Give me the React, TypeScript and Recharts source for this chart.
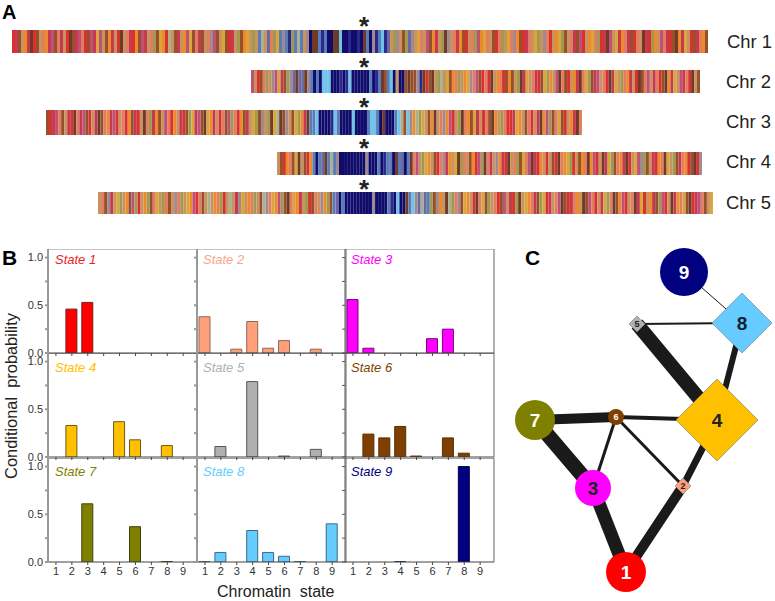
import React from 'react';
import { BarChart, Bar, Cell, XAxis, YAxis, ReferenceLine, ScatterChart, Scatter } from 'recharts';

// Panel A: one letter per stripe, left to right
const chr1Left = 'rcbtocdrbt socpbsctrd bcpsrbpcyp tboctrdtsc robpctsgby orhtbctopy bscbtsepbt ybrctgboyt gtahtvsgya eamgah';
const chr1Mid = 'atendd amanndd lnnmnnmn dan emal mvtg';
const chr1Right = 'etbgvetyst pboctgdets cobrtsgpoy stbrsgtyse obrcstygte srtoygbtsc bprtoysgrc dptycoscbr stdcrgotps crbdocytrb csob';
const chr2Left = 'ptrbsgtepy cbgevd';
const chr2Mid = 'vvdeanan lll nnnm nml nnnnnn anma db al ntn nbd b';
const chr2Right = 'bemdrbdtgh tybosgtoye spbrsrdtos rbobtgdcyt scrbygotpd sbrtocdsyg bcptsrdcyt gsoctrdbsp tcsrbdocyt pcsrdtb';
const chr3Left = 'brcpsbtcrd scpbrtcdbs ocprtsrobc rtdsgcobtp srotcrbgyc pbdyoctrsb pgsrobctyg betgdyhdbe tbygoc';
const chr3Mid = 'd aal nnnn ml a nnnn l nnnn all a ndnnn a l hb';
const chr3Right = 'leohgytbod tseoprtgds obyctrsbdo tgsrrcyotb srtcdopgbs ybrtocds';
const chr4Left = 'tbrosbydtb ro';
const chr4Mid = 'ana vd ahae nnnnnnnnn e nnn a nm aa n da vn';
const chr4Right = 'adsptgyotb rsecotydgs tborpgdsct eocrdtsgby spdcrotrtb rdsoygrtbo sdoprtdcyg bsocdrtype gbtcrosdyt gbcsorbdre';
const chr5Left = 'tsbectygto bpgrtogbsy tgsbtesgty oprsbthtos grthtceyto sgtbhesyop gbdsyoctgr bsteogb';
const chr5Mid = 'avnann nnnnnnn e nnnn a mnl nn d al e v';
const chr5Right = 'hvagbeotdh gsebyotrds ybgtsrbptc rgdtyoscbg yrctspdbrc sotdbpsrtc ygsdboprts dcyrtocbgp rtdcosybdr cpsbty';

const stripeColors: Record<string, string> = {
  r: '#d9312f', c: '#c63a50', p: '#bf5179', s: '#e27d60', o: '#ec8a2c', y: '#d8a63c', t: '#c8935e',
  b: '#96502c', d: '#6f3a28', g: '#a09a50', h: '#a9b190', e: '#a08a90', v: '#6a6aa0', n: '#100c6c',
  m: '#2a2a8c', l: '#70c4e8', a: '#5a7cb8',
};

const chromosomes = [
  { name: 'Chr 1', stripes: chr1Left + chr1Mid + chr1Right, left: 12, right: 708, top: 30, height: 23, labelX: 727, labelY: 42, star: 23 },
  { name: 'Chr 2', stripes: chr2Left + chr2Mid + chr2Right, left: 251, right: 700, top: 70, height: 23, labelX: 726, labelY: 82, star: 64 },
  { name: 'Chr 3', stripes: chr3Left + chr3Mid + chr3Right, left: 46, right: 582, top: 110, height: 25, labelX: 726, labelY: 122, star: 104 },
  { name: 'Chr 4', stripes: chr4Left + chr4Mid + chr4Right, left: 277, right: 702, top: 152, height: 23, labelX: 726, labelY: 162, star: 145 },
  { name: 'Chr 5', stripes: chr5Left + chr5Mid + chr5Right, left: 98, right: 713, top: 192, height: 22, labelX: 726, labelY: 203, star: 186 },
];

// Panel B: conditional probability of chromatin states 1-9
const chromatinStates = [1, 2, 3, 4, 5, 6, 7, 8, 9];
const state1 = [0, 0.46, 0.53, 0, 0, 0, 0, 0, 0];
const state2 = [0.38, 0, 0.04, 0.33, 0.05, 0.13, 0, 0.04, 0];
const state3 = [0.56, 0.05, 0, 0, 0, 0.15, 0.25, 0, 0];
const state4 = [0, 0.33, 0, 0, 0.37, 0.18, 0, 0.12, 0];
const state5 = [0, 0.11, 0, 0.79, 0, 0.01, 0, 0.08, 0];
const state6 = [0, 0.24, 0.2, 0.32, 0.01, 0, 0.2, 0.04, 0];
const state7 = [0, 0, 0.61, 0, 0, 0.37, 0, 0.005, 0];
const state8 = [0.005, 0.1, 0, 0.33, 0.1, 0.06, 0.005, 0, 0.4];
const state9 = [0, 0, 0, 0.002, 0, 0, 0, 1, 0];

const stateValues = [state1, state2, state3, state4, state5, state6, state7, state8, state9];
const fills = ['#ff0000', '#ffa07a', '#ff00ff', '#ffc000', '#b0b0b0', '#7f3f00', '#808000', '#66ccff', '#000080'];
const barEdges = ['#7a1f1f', '#8a6a5a', '#800080', '#6e5a10', '#555555', '#5c3000', '#404000', '#3a6a88', '#000050'];
const titleColors = ['#ee1c25', '#f9a58a', '#ff00ff', '#ffc000', '#b0b0b0', '#7f3f00', '#808000', '#66ccff', '#000080'];

const colLefts = [48, 197, 345];
const rowTops = [249, 353, 458];
const titleOffsets = [3, 7, 6];

// Panel C: network layout
const nodeIds = [1, 2, 3, 4, 5, 6, 7, 8, 9];
const nodeX = [626, 683, 593, 717, 637, 616, 535, 742, 684];
const nodeY = [572, 486, 488, 420, 324, 417, 420, 323, 272];
const nodeSize = [20, 8, 18, 41, 8, 8, 20, 30, 24];
const nodeIsDiamond = [false, true, false, true, true, false, false, true, false];
const nodeTextColors = ['#fff', '#222', '#222', '#222', '#222', '#fff', '#fff', '#123', '#fff'];

const edgeFrom = [9, 8, 5, 8, 7, 6, 7, 6, 6, 3, 2, 2];
const edgeTo = [8, 5, 4, 4, 6, 4, 3, 3, 2, 1, 1, 4];
const edgeWeight = [1, 2, 14, 6, 10, 4, 15, 3, 3, 13, 10, 7];

const point = (id: number) => ({ x: nodeX[id - 1], y: nodeY[id - 1], id });

const NodeShape = (props: any) => {
  const { cx, cy, payload } = props;
  if (cx == null || cy == null) return null;
  const i = payload.id - 1;
  const s = nodeSize[i];
  return (
    <g>
      {nodeIsDiamond[i] ? (
        <polygon
          points={`${cx},${cy - s} ${cx + s},${cy} ${cx},${cy + s} ${cx - s},${cy}`}
          fill={fills[i]}
          stroke="#777"
          strokeWidth={0.6}
        />
      ) : (
        <circle cx={cx} cy={cy} r={s} fill={fills[i]} />
      )}
      <text
        x={cx}
        y={cy}
        dy="0.36em"
        textAnchor="middle"
        fontWeight="bold"
        fontSize={s < 10 ? 9 : 19}
        fontFamily="Liberation Sans"
        fill={nodeTextColors[i]}
      >
        {payload.id}
      </text>
    </g>
  );
};

const StateChart = ({ index }: { index: number }) => {
  const col = index % 3;
  const row = Math.floor(index / 3);
  const data = chromatinStates.map((s, i) => ({ state: s, value: stateValues[index][i] }));
  const sideColor = col === 2 ? '#555' : '#999';
  return (
    <div style={{ position: 'absolute', left: colLefts[col] - 32, top: rowTops[row] }}>
      <BarChart width={182} height={126} data={data} margin={{ top: 0, right: 1, bottom: 0, left: 0 }}>
        <XAxis
          type="number"
          dataKey="state"
          domain={[0.5, 9.87]}
          ticks={chromatinStates}
          interval={0}
          height={22}
          tickSize={3}
          allowDataOverflow
          stroke="#444"
          tick={{ fontSize: 11, fill: '#333', fontFamily: 'Liberation Sans' }}
          tickFormatter={(v: number) => (row === 2 ? String(v) : '')}
        />
        <YAxis
          type="number"
          domain={[0, 1.09]}
          ticks={[0, 0.25, 0.5, 0.75, 1]}
          interval={0}
          width={32}
          tickSize={3}
          allowDataOverflow
          stroke={sideColor}
          strokeWidth={col === 2 ? 1 : 2}
          tick={{ fontSize: 11, fill: '#333', fontFamily: 'Liberation Sans' }}
          tickFormatter={(v: number) => (col === 0 && v * 2 === Math.round(v * 2) ? v.toFixed(1) : '')}
        />
        <ReferenceLine y={1.09} stroke={row === 0 ? '#888' : '#444'} />
        <ReferenceLine x={9.87} stroke="#666" />
        <Bar dataKey="value" fill={fills[index]} stroke={barEdges[index]} strokeWidth={1} barSize={11} isAnimationActive={false} />
      </BarChart>
      <div
        style={{
          position: 'absolute',
          left: col === 0 ? 39 : 38,
          top: titleOffsets[row],
          fontFamily: 'Liberation Sans',
          fontStyle: 'italic',
          fontSize: 13,
          color: titleColors[index],
          whiteSpace: 'pre',
        }}
      >
        {`State ${index + 1}`}
      </div>
    </div>
  );
};

const StripChart = ({ chr }: { chr: (typeof chromosomes)[number] }) => {
  const letters = chr.stripes.replace(/\s/g, '').split('');
  const data = letters.map((c, i) => ({ pos: i, v: 1, c }));
  return (
    <div style={{ position: 'absolute', left: chr.left, top: chr.top }}>
      <BarChart
        width={chr.right - chr.left}
        height={chr.height}
        data={data}
        margin={{ top: 0, right: 0, bottom: 0, left: 0 }}
        barCategoryGap={0}
        barGap={0}
      >
        <XAxis dataKey="pos" hide />
        <YAxis hide domain={[0, 1]} />
        <Bar dataKey="v" isAnimationActive={false}>
          {data.map((d) => (
            <Cell key={d.pos} fill={stripeColors[d.c]} />
          ))}
        </Bar>
      </BarChart>
    </div>
  );
};

const textStyle: React.CSSProperties = { position: 'absolute', fontFamily: 'Liberation Sans', whiteSpace: 'pre', color: '#222', lineHeight: 1 };
const panelLabel: React.CSSProperties = { ...textStyle, fontWeight: 'bold', color: '#000' };

const App = () => {
  return (
    <div style={{ position: 'absolute', left: 0, top: 0, width: 775, height: 601, background: '#fff', overflow: 'hidden' }}>
      <div style={{ ...panelLabel, left: 2, top: 2, fontSize: 20 }}>A</div>
      <div style={{ ...panelLabel, left: 2, top: 247, fontSize: 21 }}>B</div>
      <div style={{ ...panelLabel, left: 525, top: 247, fontSize: 21 }}>C</div>

      {chromosomes.map((chr) => (
        <React.Fragment key={chr.name}>
          <StripChart chr={chr} />
          <div style={{ ...textStyle, left: 359, top: chr.star - 10, fontSize: 26, fontWeight: 'bold' }}>*</div>
          <div style={{ ...textStyle, left: chr.labelX, top: chr.labelY - 9, fontSize: 18.4 }}>{chr.name}</div>
        </React.Fragment>
      ))}

      {stateValues.map((_, i) => (
        <StateChart key={i} index={i} />
      ))}

      <div
        style={{
          ...textStyle,
          left: 11,
          top: 396,
          fontSize: 16.4,
          transform: 'translate(-50%, -50%) rotate(-90deg)',
        }}
      >
        {'Conditional  probability'}
      </div>
      <div style={{ ...textStyle, left: 217, top: 584, fontSize: 16 }}>{'Chromatin  state'}</div>

      <div style={{ position: 'absolute', left: 500, top: 240 }}>
        <ScatterChart width={275} height={361} margin={{ top: 0, right: 0, bottom: 0, left: 0 }}>
          <XAxis type="number" dataKey="x" hide domain={[500, 775]} />
          <YAxis type="number" dataKey="y" hide domain={[240, 601]} reversed />
          {edgeFrom.map((from, i) => (
            <Scatter
              key={`edge-${i}`}
              data={[point(from), point(edgeTo[i])]}
              line={{ stroke: '#1a1a1a', strokeWidth: edgeWeight[i] }}
              shape={() => <g />}
              isAnimationActive={false}
            />
          ))}
          <Scatter data={nodeIds.map(point)} shape={NodeShape} isAnimationActive={false} />
        </ScatterChart>
      </div>
    </div>
  );
};

export default App;
